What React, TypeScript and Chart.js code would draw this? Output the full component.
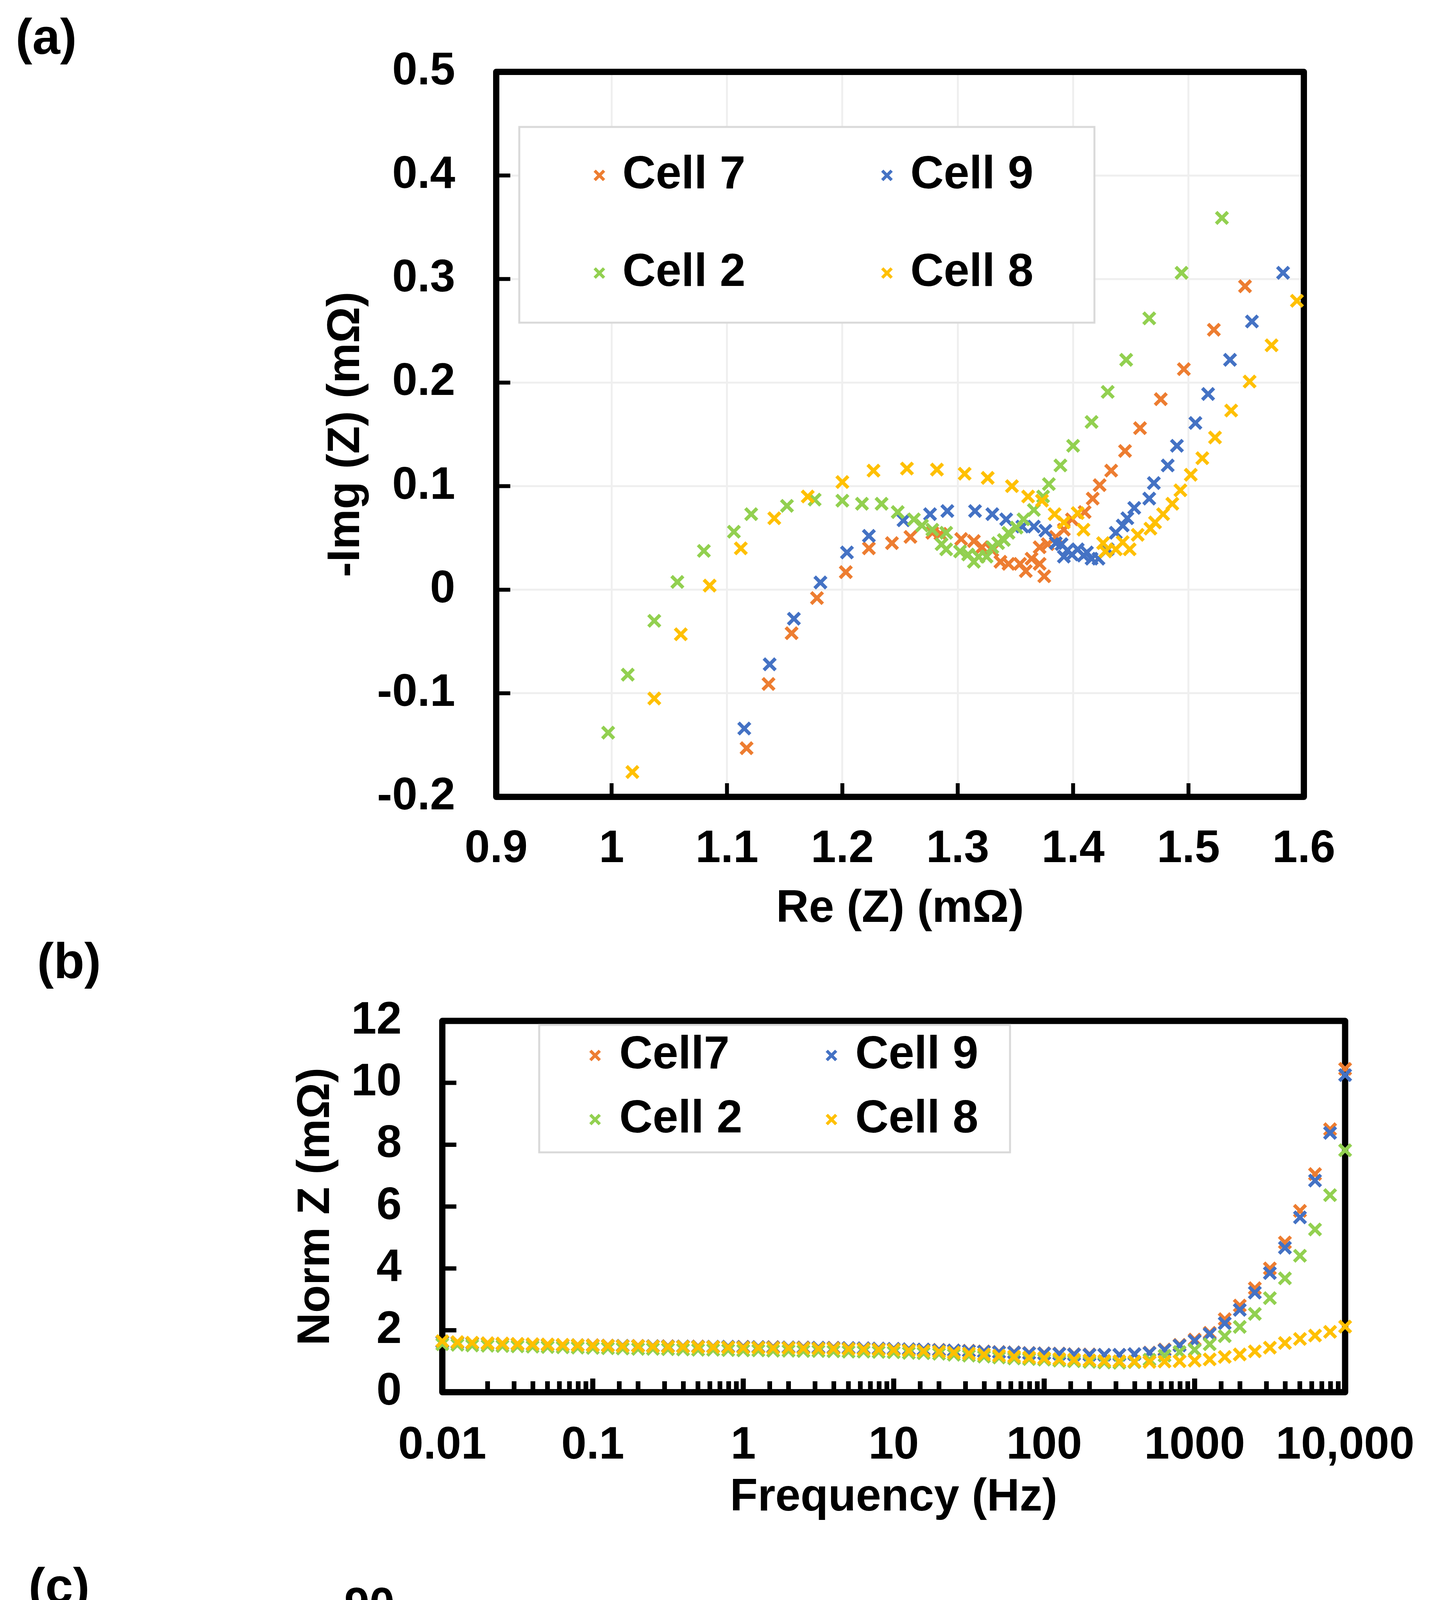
import { useEffect, useRef } from 'react';
import { Chart, registerables } from 'chart.js';

Chart.register(...registerables);

const PAGE_W = 3688;
const PAGE_H = 5417;
const FONT = "'Liberation Sans', Arial, sans-serif";
const FS = 116;
const LEGEND_FS = 118;

const C7 = '#ED7D31';
const C9 = '#4472C4';
const C2 = '#92D050';
const C8 = '#FFC000';

// ---- (a) Nyquist: Re(Z) / -Img(Z), mΩ ----
const A_LABELS = ['Cell 7', 'Cell 9', 'Cell 2', 'Cell 8'];

const A_C7_RE = [1.117, 1.136, 1.156, 1.178, 1.203, 1.223, 1.243, 1.259, 1.278, 1.285, 1.303, 1.314, 1.321, 1.330, 1.337, 1.344, 1.354, 1.359, 1.364, 1.371, 1.375, 1.371, 1.378, 1.385, 1.392, 1.399, 1.410, 1.417, 1.423, 1.433, 1.445, 1.458, 1.476, 1.496, 1.522, 1.549];
const A_C7_IM = [-0.153, -0.091, -0.042, -0.008, 0.017, 0.040, 0.045, 0.051, 0.055, 0.054, 0.049, 0.047, 0.041, 0.038, 0.027, 0.025, 0.025, 0.018, 0.030, 0.025, 0.013, 0.041, 0.044, 0.051, 0.058, 0.068, 0.075, 0.088, 0.101, 0.115, 0.134, 0.156, 0.184, 0.213, 0.251, 0.293];

const A_C9_RE = [1.115, 1.137, 1.158, 1.181, 1.204, 1.223, 1.253, 1.276, 1.291, 1.315, 1.330, 1.342, 1.356, 1.366, 1.376, 1.385, 1.390, 1.392, 1.395, 1.399, 1.404, 1.409, 1.412, 1.416, 1.422, 1.430, 1.437, 1.443, 1.447, 1.453, 1.466, 1.470, 1.482, 1.490, 1.506, 1.517, 1.536, 1.555, 1.582];
const A_C9_IM = [-0.134, -0.072, -0.028, 0.007, 0.036, 0.052, 0.067, 0.073, 0.076, 0.076, 0.073, 0.068, 0.061, 0.061, 0.057, 0.045, 0.044, 0.032, 0.038, 0.034, 0.039, 0.033, 0.036, 0.030, 0.030, 0.039, 0.055, 0.062, 0.069, 0.079, 0.088, 0.103, 0.120, 0.139, 0.161, 0.189, 0.222, 0.259, 0.306];

const A_C2_RE = [0.997, 1.014, 1.037, 1.057, 1.080, 1.106, 1.121, 1.152, 1.176, 1.200, 1.217, 1.234, 1.248, 1.262, 1.269, 1.278, 1.290, 1.286, 1.290, 1.302, 1.309, 1.314, 1.318, 1.325, 1.330, 1.335, 1.340, 1.344, 1.351, 1.357, 1.366, 1.374, 1.379, 1.389, 1.400, 1.416, 1.430, 1.446, 1.466, 1.494, 1.529];
const A_C2_IM = [-0.138, -0.082, -0.030, 0.0075, 0.0375, 0.056, 0.073, 0.081, 0.087, 0.086, 0.083, 0.083, 0.075, 0.068, 0.062, 0.058, 0.055, 0.044, 0.039, 0.037, 0.034, 0.027, 0.032, 0.032, 0.041, 0.045, 0.048, 0.055, 0.060, 0.068, 0.077, 0.090, 0.102, 0.120, 0.139, 0.162, 0.191, 0.222, 0.262, 0.306, 0.359];

const A_C8_RE = [1.018, 1.037, 1.060, 1.085, 1.112, 1.141, 1.170, 1.200, 1.227, 1.256, 1.282, 1.306, 1.326, 1.347, 1.361, 1.373, 1.384, 1.392, 1.404, 1.409, 1.426, 1.428, 1.437, 1.443, 1.449, 1.456, 1.467, 1.471, 1.478, 1.486, 1.493, 1.502, 1.512, 1.523, 1.537, 1.553, 1.572, 1.594];
const A_C8_IM = [-0.176, -0.105, -0.043, 0.004, 0.040, 0.069, 0.090, 0.104, 0.115, 0.117, 0.116, 0.112, 0.108, 0.100, 0.090, 0.086, 0.073, 0.065, 0.074, 0.058, 0.045, 0.037, 0.039, 0.046, 0.039, 0.053, 0.059, 0.065, 0.073, 0.083, 0.096, 0.111, 0.127, 0.147, 0.173, 0.201, 0.236, 0.279];

// ---- (b), (c) Bode: frequency in Hz ----
const FREQ = [
  0.01, 0.0126, 0.0158, 0.02, 0.0251, 0.0316, 0.0398, 0.0501, 0.0631, 0.0794,
  0.1, 0.126, 0.158, 0.2, 0.251, 0.316, 0.398, 0.501, 0.631, 0.794,
  1, 1.26, 1.58, 2, 2.51, 3.16, 3.98, 5.01, 6.31, 7.94,
  10, 12.6, 15.8, 20, 25.1, 31.6, 39.8, 50.1, 63.1, 79.4,
  100, 126, 158, 200, 251, 316, 398, 501, 631, 794,
  1000, 1259, 1585, 1995, 2512, 3162, 3981, 5012, 6310, 7943, 10000,
];
const FREQ_TICK_VALUES = [0.01, 0.1, 1, 10, 100, 1000, 10000];
const FREQ_TICK_LABELS = ['0.01', '0.1', '1', '10', '100', '1000', '10,000'];

const B_LABELS = ['Cell7', 'Cell 9', 'Cell 2', 'Cell 8'];
const B_C7 = [
  1.63, 1.61, 1.59, 1.58, 1.57, 1.56, 1.55, 1.54, 1.53, 1.52,
  1.52, 1.51, 1.50, 1.50, 1.49, 1.49, 1.48, 1.48, 1.47, 1.47,
  1.47, 1.46, 1.46, 1.45, 1.45, 1.44, 1.44, 1.43, 1.42, 1.41,
  1.40, 1.39, 1.38, 1.37, 1.35, 1.34, 1.32, 1.30, 1.29, 1.27,
  1.26, 1.25, 1.23, 1.22, 1.21, 1.21, 1.23, 1.28, 1.38, 1.53,
  1.70, 1.92, 2.36, 2.80, 3.36, 4.00, 4.84, 5.86, 7.05, 8.50, 10.45,
];
const B_C9 = [
  1.62, 1.60, 1.58, 1.57, 1.56, 1.55, 1.54, 1.53, 1.52, 1.52,
  1.51, 1.50, 1.50, 1.49, 1.49, 1.48, 1.48, 1.47, 1.47, 1.47,
  1.46, 1.46, 1.45, 1.45, 1.44, 1.44, 1.43, 1.43, 1.42, 1.41,
  1.40, 1.39, 1.38, 1.36, 1.35, 1.33, 1.31, 1.29, 1.28, 1.26,
  1.25, 1.24, 1.22, 1.21, 1.21, 1.21, 1.23, 1.27, 1.36, 1.51,
  1.66, 1.88, 2.23, 2.66, 3.22, 3.85, 4.67, 5.65, 6.84, 8.38, 10.25,
];
const B_C2 = [
  1.55, 1.53, 1.51, 1.50, 1.49, 1.48, 1.47, 1.46, 1.45, 1.44,
  1.43, 1.42, 1.41, 1.40, 1.40, 1.39, 1.38, 1.37, 1.37, 1.36,
  1.35, 1.35, 1.34, 1.34, 1.33, 1.33, 1.32, 1.31, 1.31, 1.30,
  1.29, 1.27, 1.26, 1.24, 1.21, 1.18, 1.15, 1.12, 1.09, 1.07,
  1.05, 1.02, 1.00, 0.98, 0.96, 0.95, 0.97, 1.05, 1.18, 1.30,
  1.37, 1.55, 1.81, 2.11, 2.53, 3.04, 3.68, 4.41, 5.26, 6.37, 7.82,
];
const B_C8 = [
  1.65, 1.62, 1.60, 1.58, 1.57, 1.56, 1.55, 1.54, 1.53, 1.52,
  1.51, 1.50, 1.49, 1.49, 1.48, 1.47, 1.47, 1.46, 1.46, 1.45,
  1.44, 1.44, 1.43, 1.43, 1.42, 1.41, 1.41, 1.40, 1.39, 1.38,
  1.37, 1.35, 1.33, 1.31, 1.28, 1.25, 1.22, 1.18, 1.15, 1.12,
  1.10, 1.07, 1.05, 1.03, 1.01, 1.00, 0.99, 0.98, 0.99, 1.00,
  1.02, 1.06, 1.14, 1.22, 1.32, 1.44, 1.59, 1.72, 1.83, 1.95, 2.12,
];

const C_LABELS = ['Cell 7', 'Cell 9', 'Cell 2', 'Cell 8'];
const C_C7 = [
  -10.1, -8.6, -7.1, -6.0, -5.3, -4.4, -3.7, -3.1, -2.6, -2.2,
  -1.9, -1.6, -1.4, -1.2, -1.0, -0.9, -0.8, -0.7, -0.7, -0.8,
  -0.8, -0.8, -0.9, -1.0, -1.1, -1.2, -1.3, -1.5, -1.6, -1.8,
  -1.9, -2.0, -2.1, -2.2, -2.3, -2.3, -2.2, -1.9, -1.4, -0.6,
  0.6, 2.6, 5.0, 8.5, 12.3, 17.1, 22.4, 28.6, 34.9, 41.8,
  48.0, 53.7, 58.6, 62.0, 65.0, 67.5, 70.0, 72.2, 74.2, 76.2, 77.8,
];
const C_C9 = [
  -11.9, -10.3, -8.7, -7.4, -6.3, -5.3, -4.5, -3.8, -3.2, -2.7,
  -2.3, -2.0, -1.7, -1.5, -1.3, -1.1, -1.0, -0.9, -0.9, -1.0,
  -1.0, -1.0, -1.1, -1.2, -1.3, -1.5, -1.6, -1.8, -2.0, -2.2,
  -2.4, -2.6, -2.8, -3.0, -3.1, -3.1, -3.0, -2.6, -1.9, -0.9,
  0.5, 2.4, 4.9, 8.3, 12.0, 16.6, 21.8, 28.0, 34.4, 41.2,
  47.9, 53.9, 59.0, 62.8, 66.0, 68.6, 71.2, 73.5, 75.4, 77.3, 79.0,
];
const C_C2 = [
  -12.6, -10.9, -9.4, -8.0, -6.9, -5.9, -5.0, -4.2, -3.6, -3.0,
  -2.6, -2.2, -1.9, -1.7, -1.5, -1.3, -1.2, -1.1, -1.1, -1.2,
  -1.3, -1.3, -1.4, -1.6, -1.8, -2.0, -2.3, -2.6, -2.9, -3.2,
  -3.5, -3.8, -4.1, -4.3, -4.5, -4.6, -4.5, -4.2, -3.6, -2.8,
  -1.6, -0.2, 1.6, 4.2, 7.4, 12.0, 17.5, 23.3, 29.6, 36.2,
  42.8, 48.3, 53.4, 57.5, 61.2, 63.7, 66.7, 68.9, 70.7, 72.9, 75.5,
];
const C_C8 = [
  -13.0, -11.2, -9.7, -8.2, -7.1, -6.0, -5.1, -4.3, -3.6, -3.0,
  -2.6, -2.3, -2.0, -1.8, -1.6, -1.4, -1.2, -1.2, -1.2, -1.3,
  -1.4, -1.4, -1.5, -1.7, -1.9, -2.2, -2.6, -2.9, -3.3, -3.7,
  -4.0, -4.4, -4.7, -5.0, -5.2, -5.3, -5.1, -4.8, -4.1, -3.1,
  -2.0, -0.5, 2.1, 5.7, 10.1, 14.9, 20.8, 27.4, 34.0, 41.0,
  47.2, 53.1, 57.9, 61.2, 64.1, 66.7, 68.9, 71.1, 72.9, 75.1, 76.9,
];

const tickFont = { family: FONT, size: FS, weight: 'bold' as const };
const titleFont = { family: FONT, size: FS, weight: 'bold' as const, lineHeight: 1.2 };

const isDecade = (v: number) => Math.abs(Math.log10(v) - Math.round(Math.log10(v))) < 1e-6;
const fmt1 = (v: number | string) => String(Math.round(Number(v) * 10) / 10);
const freqLabel = (v: number | string) => {
  const i = FREQ_TICK_VALUES.findIndex((t) => Math.abs(Math.log10(Number(v) / t)) < 1e-6);
  return i >= 0 ? FREQ_TICK_LABELS[i] : '';
};

// plot box + inside tick marks, drawn under the markers
const framePlugin = {
  id: 'frame',
  beforeDatasetsDraw(chart: any, _args: any, o: any) {
    const { ctx, chartArea: a, scales } = chart;
    const half = o.border / 2;
    ctx.save();
    ctx.strokeStyle = '#000';
    ctx.lineCap = 'butt';
    const xs = scales.x;
    xs.ticks.forEach((t: any) => {
      const px = xs.getPixelForValue(t.value);
      if (px <= a.left + 3 || px >= a.right - 3) return;
      const major = o.log ? isDecade(t.value) : true;
      ctx.lineWidth = major ? o.xTickW : o.minorW;
      const len = major ? o.xTick : o.xMinor;
      ctx.beginPath();
      ctx.moveTo(px, a.bottom);
      ctx.lineTo(px, a.bottom - half - len);
      ctx.stroke();
    });
    const ys = scales.y;
    ctx.lineWidth = o.yTickW;
    ys.ticks.forEach((t: any) => {
      const py = ys.getPixelForValue(t.value);
      if (py <= a.top + 3 || py >= a.bottom - 3) return;
      ctx.beginPath();
      ctx.moveTo(a.left, py);
      ctx.lineTo(a.left + half + o.yTick, py);
      ctx.stroke();
    });
    ctx.lineWidth = o.border;
    ctx.lineJoin = 'round';
    ctx.strokeRect(a.left, a.top, a.right - a.left, a.bottom - a.top);
    ctx.restore();
  },
};

// two-column legend in a light grey box inside the plot
const boxLegend = {
  id: 'boxLegend',
  afterDraw(chart: any, _args: any, o: any) {
    if (!o || !o.box) return;
    const { ctx } = chart;
    const [bx, by, bw, bh] = o.box;
    ctx.save();
    ctx.fillStyle = '#fff';
    ctx.fillRect(bx, by, bw, bh);
    ctx.strokeStyle = '#d9d9d9';
    ctx.lineWidth = 5;
    ctx.strokeRect(bx, by, bw, bh);
    chart.data.datasets.forEach((ds: any, i: number) => {
      const col = i % 2;
      const row = Math.floor(i / 2);
      const mx = o.markerX[col];
      const my = o.rowY[row];
      const r = 12;
      ctx.strokeStyle = ds.borderColor;
      ctx.lineWidth = 8;
      ctx.beginPath();
      ctx.moveTo(mx - r, my - r);
      ctx.lineTo(mx + r, my + r);
      ctx.moveTo(mx + r, my - r);
      ctx.lineTo(mx - r, my + r);
      ctx.stroke();
      ctx.fillStyle = '#000';
      ctx.font = `bold ${LEGEND_FS}px ${FONT}`;
      ctx.textAlign = 'left';
      ctx.textBaseline = 'middle';
      ctx.fillText(ds.label, o.textX[col], my);
    });
    ctx.restore();
  },
};

const series = (label: string, color: string, data: { x: number; y: number }[], order: number) => ({
  label,
  data,
  order,
  showLine: false,
  borderColor: color,
  backgroundColor: color,
  pointStyle: 'crossRot',
  pointRadius: 21,
  pointHoverRadius: 21,
  pointBorderWidth: 9,
  clip: false,
});

const zipXY = (xs: number[], ys: number[]) => xs.map((x, i) => ({ x, y: ys[i] }));

function baseOptions(pad: any, extra: any) {
  return {
    animation: false,
    responsive: true,
    maintainAspectRatio: false,
    devicePixelRatio: 1,
    layout: { padding: pad },
    events: [],
    plugins: {
      legend: { display: false },
      tooltip: { enabled: false },
      ...extra,
    },
  };
}

function yAxis(min: number, max: number, step: number, width: number, pad: number, title: string, grid: boolean, fmt?: (v: any) => string) {
  return {
    type: 'linear',
    min,
    max,
    ticks: { stepSize: step, autoSkip: false, padding: pad, color: '#000', font: tickFont, callback: fmt },
    grid: grid ? { display: true, color: '#efefef', lineWidth: 5, drawTicks: false } : { display: false, drawTicks: false },
    border: { display: false },
    title: { display: true, text: title, color: '#000', font: titleFont, padding: 0 },
    afterFit: (s: any) => { s.width = width; },
  };
}

function logX(height: number, pad: number) {
  return {
    type: 'logarithmic',
    min: 0.01,
    max: 10000,
    ticks: { autoSkip: false, maxRotation: 0, minRotation: 0, padding: pad, color: '#000', font: tickFont, callback: freqLabel },
    grid: { display: false, drawTicks: false },
    border: { display: false },
    title: { display: true, text: 'Frequency (Hz)', color: '#000', font: titleFont, padding: 0 },
    afterFit: (s: any) => { s.height = height; },
  };
}

function configA() {
  return {
    type: 'scatter',
    data: {
      datasets: [
        series(A_LABELS[0], C7, zipXY(A_C7_RE, A_C7_IM), 4),
        series(A_LABELS[1], C9, zipXY(A_C9_RE, A_C9_IM), 3),
        series(A_LABELS[2], C2, zipXY(A_C2_RE, A_C2_IM), 2),
        series(A_LABELS[3], C8, zipXY(A_C8_RE, A_C8_IM), 1),
      ],
    },
    options: {
      ...baseOptions({ top: 184, bottom: 42, left: 817, right: 351 }, {
        frame: { border: 16, xTick: 27, xMinor: 27, xTickW: 10, minorW: 10, yTick: 28, yTickW: 10, log: false },
        boxLegend: { box: [1329, 325, 1472, 501], markerX: [1534, 2270], textX: [1593, 2330], rowY: [449, 699] },
      }),
      scales: {
        x: {
          type: 'linear',
          min: 0.9,
          max: 1.6,
          ticks: { stepSize: 0.1, autoSkip: false, padding: 65, maxRotation: 0, color: '#000', font: tickFont, callback: fmt1 },
          grid: { display: true, color: '#efefef', lineWidth: 5, drawTicks: false },
          border: { display: false },
          title: { display: true, text: 'Re (Z) (mΩ)', color: '#000', font: titleFont, padding: 0 },
          afterFit: (s: any) => { s.height = 358; },
        },
        y: yAxis(-0.2, 0.5, 0.1, 453, 105, '-Img (Z) (mΩ)', true, fmt1),
      },
    },
    plugins: [framePlugin, boxLegend],
  };
}

function configB() {
  return {
    type: 'scatter',
    data: {
      datasets: [
        series(B_LABELS[0], C7, zipXY(FREQ, B_C7), 4),
        series(B_LABELS[1], C9, zipXY(FREQ, B_C9), 3),
        series(B_LABELS[2], C2, zipXY(FREQ, B_C2), 2),
        series(B_LABELS[3], C8, zipXY(FREQ, B_C8), 1),
      ],
    },
    options: {
      ...baseOptions({ top: 137, bottom: 35, left: 740, right: 236 }, {
        frame: { border: 16, xTick: 27, xMinor: 20, xTickW: 13, minorW: 12, yTick: 28, yTickW: 11, log: true },
        boxLegend: { box: [1380, 184, 1205, 326], markerX: [1523, 2128], textX: [1585, 2189], rowY: [262, 426] },
      }),
      scales: {
        x: logX(341, 68),
        y: yAxis(0, 12, 2, 392, 104, 'Norm Z (mΩ)', false),
      },
    },
    plugins: [framePlugin, boxLegend],
  };
}

function configC() {
  return {
    type: 'scatter',
    data: {
      datasets: [
        series(C_LABELS[0], C7, zipXY(FREQ, C_C7), 4),
        series(C_LABELS[1], C9, zipXY(FREQ, C_C9), 3),
        series(C_LABELS[2], C2, zipXY(FREQ, C_C2), 2),
        series(C_LABELS[3], C8, zipXY(FREQ, C_C8), 1),
      ],
    },
    options: {
      ...baseOptions({ top: 153, bottom: 50, left: 682, right: 225 }, {
        frame: { border: 16, xTick: 26, xMinor: 18, xTickW: 13, minorW: 12, yTick: 28, yTickW: 11, log: true },
        boxLegend: { box: [1350, 216, 1198, 314], markerX: [1492, 2089], textX: [1553, 2152], rowY: [290, 445] },
      }),
      scales: {
        x: logX(315, 63),
        y: yAxis(-15, 90, 15, 432, 104, 'θ (degree)', false),
      },
    },
    plugins: [framePlugin, boxLegend],
  };
}

function ChartBox({ height, build }: { height: number; build: () => any }) {
  const ref = useRef<HTMLCanvasElement>(null);
  useEffect(() => {
    if (!ref.current) return;
    const chart = new Chart(ref.current, build());
    return () => chart.destroy();
  }, [build]);
  return (
    <div style={{ position: 'relative', width: PAGE_W, height }}>
      <canvas ref={ref} />
    </div>
  );
}

const panelLetter = (text: string, left: number, top: number) => (
  <div
    style={{
      position: 'absolute', left, top, fontFamily: FONT, fontWeight: 'bold',
      fontSize: 128, lineHeight: '128px', color: '#000', whiteSpace: 'nowrap',
    }}
  >
    {text}
  </div>
);

export default function App() {
  useEffect(() => {
    document.body.style.margin = '0';
  }, []);
  return (
    <div style={{ position: 'relative', width: PAGE_W, height: PAGE_H, background: '#fff', overflow: 'hidden' }}>
      <ChartBox height={2440} build={configA} />
      <ChartBox height={1500} build={configB} />
      <ChartBox height={1477} build={configC} />
      {panelLetter('(a)', 40, 30)}
      {panelLetter('(b)', 95, 2396)}
      {panelLetter('(c)', 73, 3996)}
    </div>
  );
}
